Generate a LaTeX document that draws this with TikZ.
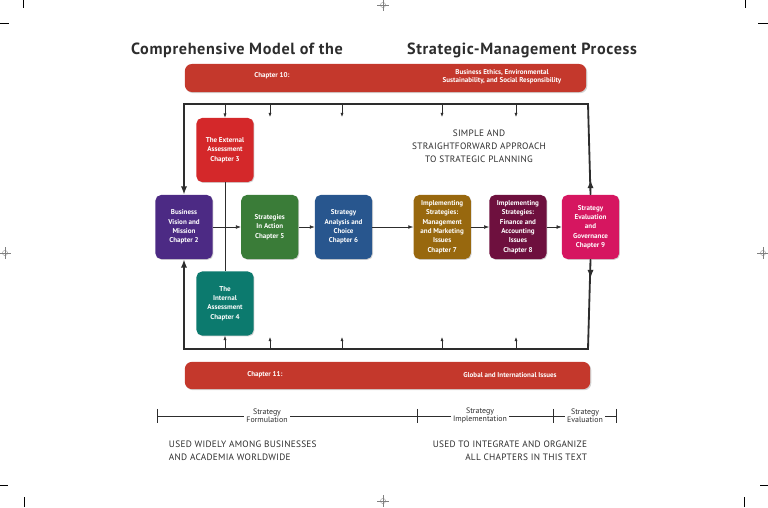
\documentclass[tikz,border=0pt]{standalone}
\usepackage{fontspec}
\setmainfont{PT Sans}
\usepackage{xcolor}
\usetikzlibrary{arrows.meta, positioning, shadows}
\definecolor{BarRed}{RGB}{196,56,44}
\definecolor{ExtRed}{RGB}{212,40,42}
\definecolor{VisPurple}{RGB}{76,42,132}
\definecolor{SiaGreen}{RGB}{58,124,56}
\definecolor{SacBlue}{RGB}{40,86,142}
\definecolor{ImpBrown}{RGB}{152,104,14}
\definecolor{FinMaroon}{RGB}{110,16,62}
\definecolor{EvaPink}{RGB}{214,22,96}
\definecolor{IntTeal}{RGB}{12,122,110}
\definecolor{InkGray}{RGB}{45,45,45}

\begin{document}
\begin{tikzpicture}[
      x = 0.025cm, y = -0.025cm,
      >=Latex,
      chap/.style={
        rounded corners = 4pt,
        minimum width = 1.43cm,
        minimum height = 1.6cm,
        inner sep = 1pt,
        align = center,
        text = white,
        font = \bfseries\fontsize{5}{6.6}\selectfont,
        drop shadow = {opacity = 0.35, shadow xshift = 0.6pt, shadow yshift = -0.6pt},
      },
      bar/.style={
        fill = BarRed,
        rounded corners = 5pt,
        drop shadow = {opacity = 0.35, shadow xshift = 0.8pt, shadow yshift = -0.8pt},
      },
      bartext/.style={text = white, align = center, font = \bfseries\fontsize{5}{5.8}\selectfont},
      headline/.style={text = InkGray,
        font = \bfseries\fontsize{11.5}{13}\selectfont\addfontfeatures{LetterSpace = 4}},
      loopline/.style={line width = 1.3pt, InkGray},
      bigtip/.style={loopline, -{Latex[length = 6pt, width = 4.5pt]}},
      flow/.style={thin, InkGray, -{Latex[length = 3.5pt, width = 2.6pt]}},
      tick/.style={thin, InkGray, -{Latex[length = 3pt, width = 2.2pt]}},
      phase/.style={fill = white, inner sep = 1.5pt, align = center,
        text = InkGray, font = \fontsize{5.6}{5.9}\selectfont},
      note/.style={text = InkGray, font = \fontsize{6.6}{9.2}\selectfont\addfontfeatures{LetterSpace = 3}},
      regmark/.style={very thin, gray},
    ]
    \useasboundingbox (0,0) rectangle (768,507);

    % title
    \node[headline] (ttl1) at (237,50) {Comprehensive Model of the};
    \node[headline] (ttl2) at (522,50) {Strategic-Management Process};

    % chapter bars
    \node[bar, minimum width = 10.03cm, minimum height = 0.7cm] (ch10) at (385.5,78) {};
    \node[bartext] (ch10a) at (272,76) {Chapter 10:};
    \node[bartext] (ch10b) at (502,77)
      {Business Ethics, Environmental\\Sustainability, and Social Responsibility};
    \node[bar, minimum width = 10.13cm, minimum height = 0.68cm] (ch11) at (387.5,375.5) {};
    \node[bartext] (ch11a) at (265,375) {Chapter 11:};
    \node[bartext] (ch11b) at (510,375) {Global and International Issues};

    % chapter boxes
    \node[chap, fill = VisPurple] (vis) at (184,227)
      {Business\\Vision and\\Mission\\Chapter 2};
    \node[chap, fill = SiaGreen, right = 0.7cm of vis] (sia)
      {Strategies\\In Action\\Chapter 5};
    \node[chap, fill = SacBlue, right = 0.4cm of sia] (sac)
      {Strategy\\Analysis and\\Choice\\Chapter 6};
    \node[chap, fill = ImpBrown, right = 1.02cm of sac] (imp)
      {Implementing\\Strategies:\\Management\\and Marketing\\Issues\\Chapter 7};
    \node[chap, fill = FinMaroon, right = 0.45cm of imp] (fin)
      {Implementing\\Strategies:\\Finance and\\Accounting\\Issues\\Chapter 8};
    \node[chap, fill = EvaPink, right = 0.37cm of fin] (eva)
      {Strategy\\Evaluation\\and\\Governance\\Chapter 9};
    \node[chap, fill = ExtRed] (ext) at (225,150)
      {The External\\Assessment\\Chapter 3};
    \node[chap, fill = IntTeal] (int) at (225,303.5)
      {The\\Internal\\Assessment\\Chapter 4};

    \node[note, align = center] (simple) at (479,146)
      {SIMPLE AND\\STRAIGHTFORWARD APPROACH\\TO STRATEGIC PLANNING};

    % feedback loop
    \coordinate (tl) at (184,104);
    \coordinate (tr) at (588,104);
    \coordinate (bl) at (184,349);
    \coordinate (br) at (588,349);
    \draw[thin, InkGray] (ext) -- (int);
    \draw[loopline, {Latex[length = 6pt, width = 4.5pt]}-] (vis.north) -- (tl) -- (tr) -- (eva.north);
    \draw[loopline, {Latex[length = 6pt, width = 4.5pt]}-] (vis.south) -- (bl) -- (br) -- (eva.south);
    \draw[bigtip] (eva.north) -- ++(0,-15);
    \draw[bigtip] (eva.south) -- ++(0,19);
    \draw[tick] (ext.north |- tl) -- (ext.north);
    \draw[tick] (int.south |- bl) -- (int.south);
    \foreach \tx in {270,342,442,516} {
      \draw[tick] (\tx,104) -- ++(0,13);
      \draw[tick] (\tx,349) -- ++(0,-12);
    }

    % main flow
    \draw[flow] (vis) -- (sia);
    \draw[flow] (sia) -- (sac);
    \draw[flow] (sac) -- (imp);
    \draw[flow] (imp) -- (fin);
    \draw[flow] (fin) -- (eva);

    % stages
    \coordinate (p0) at (157,416);
    \coordinate (p1) at (417,416);
    \coordinate (p2) at (553,416);
    \coordinate (p3) at (616,416);
    \draw[thin, InkGray] (p0) -- (p3);
    \foreach \p in {p0,p1,p2,p3}
      \draw[thin, InkGray] ([yshift = 5pt]\p) -- ([yshift = -5pt]\p);
    \node[phase] (form) at (267,415.5) {Strategy\\Formulation};
    \node[phase] (impl) at (480,415.5) {Strategy\\Implementation};
    \node[phase] (eval) at (585,415.5) {Strategy\\Evaluation};

    \node[note, align = left, anchor = north west] (usedl) at (164,436)
      {USED WIDELY AMONG BUSINESSES\\AND ACADEMIA WORLDWIDE};
    \node[note, align = right, anchor = north east] (usedr) at (592,436)
      {USED TO INTEGRATE AND ORGANIZE\\ALL CHAPTERS IN THIS TEXT};

    % print marks
    \foreach \rx/\ry in {383/5, 5/253, 763/253, 383/501} {
      \draw[regmark] (\rx,\ry) circle (2.6);
      \draw[regmark] (\rx-6,\ry) -- (\rx+6,\ry) (\rx,\ry-6) -- (\rx,\ry+6);
    }
    \draw[thin] (23,0) -- (23,8) (0,23) -- (9,23);
    \draw[thin] (745,0) -- (745,8) (758,23) -- (768,23);
    \draw[thin] (0,485) -- (8,485) (760,485) -- (768,485);
    \draw[thin] (24,497) -- (24,507) (744,497) -- (744,507);
  \end{tikzpicture}
\end{document}
